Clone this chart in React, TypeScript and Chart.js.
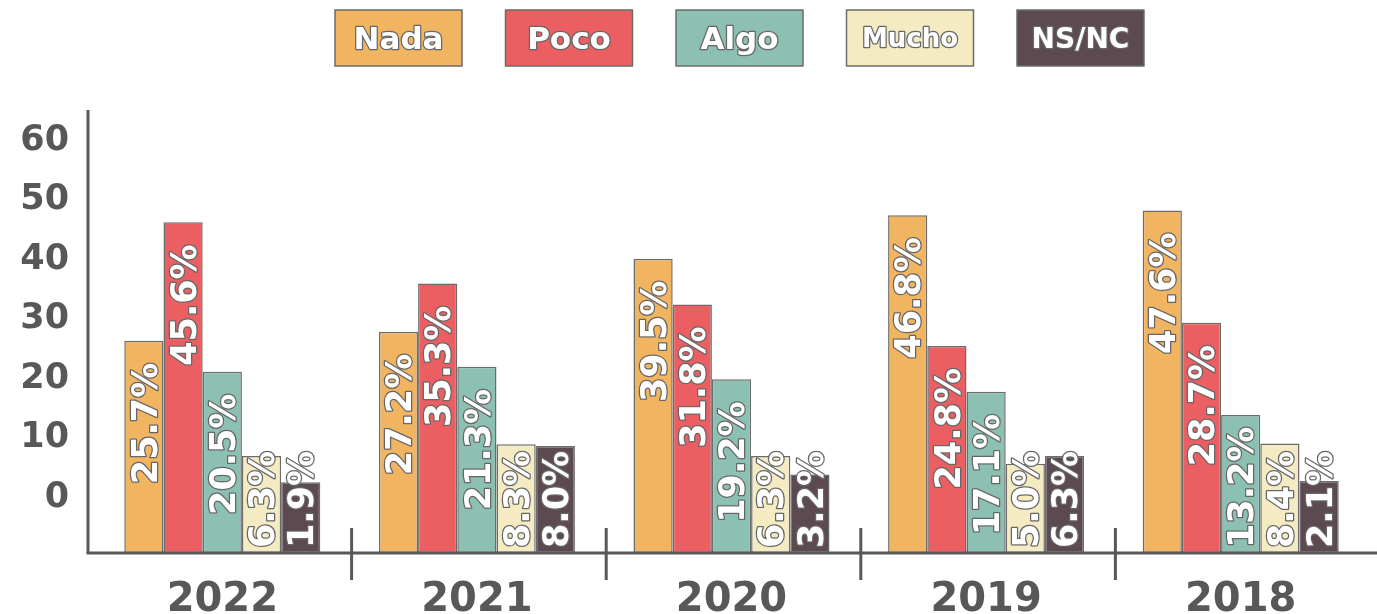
import React, { useEffect, useRef } from 'react';
import { Chart, registerables } from 'chart.js';

Chart.register(...registerables);

// ---- data ----
const YEARS = ['2022', '2021', '2020', '2019', '2018'];
const SERIES_NAMES = ['Nada', 'Poco', 'Algo', 'Mucho', 'NS/NC'];
const NADA = [25.7, 27.2, 39.5, 46.8, 47.6];
const POCO = [45.6, 35.3, 31.8, 24.8, 28.7];
const ALGO = [20.5, 21.3, 19.2, 17.1, 13.2];
const MUCHO = [6.3, 8.3, 6.3, 5.0, 8.4];
const NSNC = [1.9, 8.0, 3.2, 6.3, 2.1];
const Y_TICKS = [0, 10, 20, 30, 40, 50, 60];

// ---- styles ----
const COLORS = ['#F1B461', '#EB5F62', '#8BC0B2', '#F4EBC2', '#5D4A50'];
const FONT = '"DejaVu Sans", sans-serif';
const AXIS_COLOR = '#58585a';
const BORDER_COLOR = '#6b6b6b';
const LABEL_STROKE = '#666666';

const axisPlugin = {
  id: 'axisDecor',
  afterDraw(chart: any) {
    const { ctx, chartArea: ca } = chart;
    const xs = chart.scales.x;
    ctx.save();
    ctx.strokeStyle = AXIS_COLOR;
    ctx.lineWidth = 3;
    const axX = ca.left - 7;
    ctx.beginPath();
    ctx.moveTo(axX, ca.top + 3);
    ctx.lineTo(axX, ca.bottom);
    ctx.stroke();
    ctx.beginPath();
    ctx.moveTo(axX - 1.5, ca.bottom);
    ctx.lineTo(chart.width, ca.bottom);
    ctx.stroke();
    for (let i = 0; i < YEARS.length - 1; i++) {
      const px = (xs.getPixelForValue(i) + xs.getPixelForValue(i + 1)) / 2 + 2;
      ctx.beginPath();
      ctx.moveTo(px, ca.bottom - 25);
      ctx.lineTo(px, ca.bottom + 27);
      ctx.stroke();
    }
    ctx.restore();
  },
};

const barLabelPlugin = {
  id: 'barLabels',
  afterDatasetsDraw(chart: any) {
    const ctx = chart.ctx;
    const fs = 35;
    ctx.save();
    ctx.font = `bold ${fs}px ${FONT}`;
    ctx.lineJoin = 'round';
    chart.data.datasets.forEach((ds: any, di: number) => {
      const meta = chart.getDatasetMeta(di);
      meta.data.forEach((bar: any, i: number) => {
        const v = ds.data[i] as number;
        const text = v.toFixed(1) + '%';
        const w = ctx.measureText(text).width;
        let start = bar.y + 22 + w;
        const maxStart = bar.base - 5;
        if (start > maxStart) start = maxStart;
        ctx.save();
        ctx.translate(bar.x, start);
        ctx.rotate(-Math.PI / 2);
        ctx.textAlign = 'left';
        ctx.textBaseline = 'alphabetic';
        ctx.lineWidth = 2.5;
        ctx.strokeStyle = LABEL_STROKE;
        ctx.strokeText(text, 0, 0.365 * fs);
        ctx.fillStyle = '#ffffff';
        ctx.fillText(text, 0, 0.365 * fs);
        ctx.restore();
      });
    });
    ctx.restore();
  },
};

const legendPlugin = {
  id: 'boxLegend',
  afterDraw(chart: any) {
    const ctx = chart.ctx;
    const n = chart.data.datasets.length;
    const step = 170.5;
    const bw = 127;
    const bh = 56;
    const top = 10;
    const centerX = 739.5;
    const first = centerX - ((n - 1) * step + bw) / 2;
    ctx.save();
    chart.data.datasets.forEach((ds: any, i: number) => {
      const x0 = first + i * step;
      ctx.fillStyle = ds.backgroundColor;
      ctx.fillRect(x0, top, bw, bh);
      ctx.lineWidth = 1.5;
      ctx.strokeStyle = BORDER_COLOR;
      ctx.strokeRect(x0, top, bw, bh);
      let fs = 31;
      ctx.font = `bold ${fs}px ${FONT}`;
      const w = ctx.measureText(ds.label).width;
      if (w > 98) {
        fs = Math.floor((fs * 98) / w);
        ctx.font = `bold ${fs}px ${FONT}`;
      }
      ctx.textAlign = 'center';
      ctx.textBaseline = 'alphabetic';
      ctx.lineJoin = 'round';
      const by = top + bh / 2 + 0.365 * fs;
      ctx.lineWidth = 2.5;
      ctx.strokeStyle = LABEL_STROKE;
      ctx.strokeText(ds.label, x0 + bw / 2, by);
      ctx.fillStyle = '#ffffff';
      ctx.fillText(ds.label, x0 + bw / 2, by);
    });
    ctx.restore();
  },
};

export default function App() {
  const canvasRef = useRef<HTMLCanvasElement | null>(null);

  useEffect(() => {
    if (!canvasRef.current) return;
    const seriesValues = [NADA, POCO, ALGO, MUCHO, NSNC];
    const chart = new Chart(canvasRef.current, {
      type: 'bar',
      data: {
        labels: YEARS,
        datasets: SERIES_NAMES.map((name, i) => ({
          label: name,
          data: seriesValues[i],
          backgroundColor: COLORS[i],
          borderColor: BORDER_COLOR,
          borderWidth: 1.5,
          borderSkipped: false,
          base: -10,
          categoryPercentage: 0.77,
          barPercentage: 1.0,
        })) as any,
      },
      options: {
        animation: false,
        responsive: true,
        maintainAspectRatio: false,
        layout: { padding: { top: 107, right: 9, left: 0, bottom: 0 } },
        plugins: {
          legend: { display: false },
          tooltip: { enabled: false },
        },
        scales: {
          x: {
            grid: { display: false, drawTicks: false },
            border: { display: false },
            ticks: {
              color: AXIS_COLOR,
              font: { family: FONT, size: 40, weight: 'bold' },
              padding: 24,
              maxRotation: 0,
            },
            afterFit: (s: any) => {
              s.height = 61;
            },
          },
          y: {
            min: -10,
            max: 65,
            grid: { display: false, drawTicks: false },
            border: { display: false },
            afterBuildTicks: (s: any) => {
              s.ticks = Y_TICKS.map((v) => ({ value: v }));
            },
            ticks: {
              padding: 26,
              labelOffset: 4,
              color: AXIS_COLOR,
              font: { family: FONT, size: 35, weight: 'bold' },
              callback: (v: any) => String(v),
            },
            afterFit: (s: any) => {
              s.width = 95;
            },
          },
        },
      } as any,
      plugins: [barLabelPlugin, axisPlugin, legendPlugin],
    });
    return () => chart.destroy();
  }, []);

  return (
    <div style={{ position: 'fixed', left: 0, top: 0, width: 1377, height: 614, background: '#ffffff' }}>
      <canvas ref={canvasRef} />
    </div>
  );
}
